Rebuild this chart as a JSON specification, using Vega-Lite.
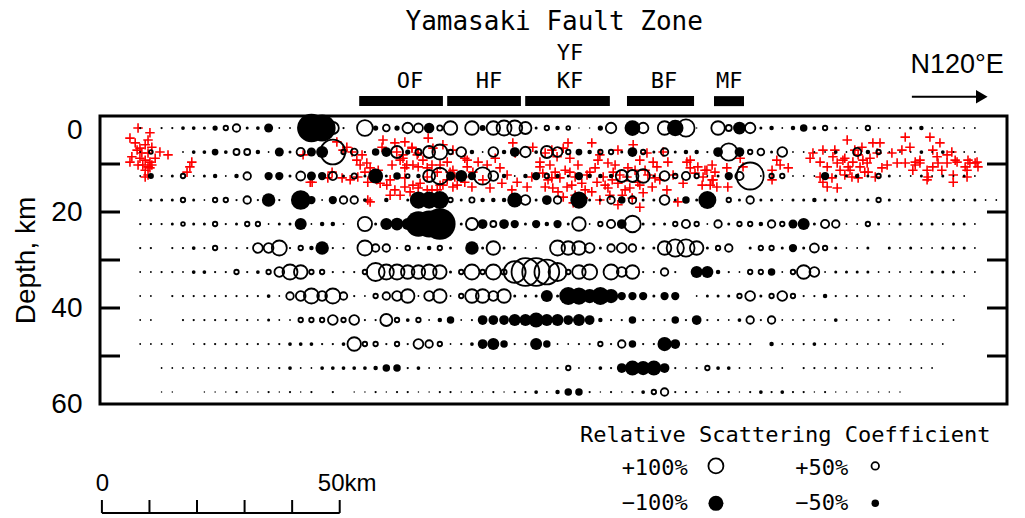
{
"$schema":"https://vega.github.io/schema/vega-lite/v6.json",
"width":907,"height":288,"autosize":{"type":"none"},
"padding":{"left":100,"top":116,"right":18,"bottom":114},
"background":"white",
"config":{"view":{"stroke":"black","strokeWidth":3}},
"datasets":{
"grid":[
{"x":8.45,"d":2.5,"v":-15},{"x":12.95,"d":2.5,"v":-15},{"x":15.2,"d":2.5,"v":-15},{"x":17.45,"d":2.5,"v":-25},{"x":19.7,"d":2.5,"v":-25},{"x":21.95,"d":2.5,"v":-20},{"x":24.2,"d":2.5,"v":-35},{"x":26.45,"d":2.5,"v":30},{"x":28.7,"d":2.5,"v":50},{"x":30.95,"d":2.5,"v":-20},{"x":33.2,"d":2.5,"v":-25},{"x":35.45,"d":2.5,"v":-60},{"x":37.7,"d":2.5,"v":-12},{"x":39.95,"d":2.5,"v":-12},{"x":42.2,"d":2.5,"v":30},{"x":44.45,"d":2.5,"v":-190},{"x":46.7,"d":2.5,"v":-180},{"x":48.95,"d":2.5,"v":80},{"x":51.2,"d":2.5,"v":-15},{"x":55.7,"d":2.5,"v":105},{"x":57.95,"d":2.5,"v":-35},{"x":60.2,"d":2.5,"v":45},{"x":62.45,"d":2.5,"v":-35},{"x":64.7,"d":2.5,"v":70},{"x":66.95,"d":2.5,"v":60},{"x":69.2,"d":2.5,"v":-70},{"x":71.45,"d":2.5,"v":35},{"x":73.7,"d":2.5,"v":90},{"x":78.2,"d":2.5,"v":90},{"x":80.45,"d":2.5,"v":-40},{"x":82.7,"d":2.5,"v":90},{"x":84.95,"d":2.5,"v":100},{"x":87.2,"d":2.5,"v":100},{"x":89.45,"d":2.5,"v":80},{"x":91.7,"d":2.5,"v":-20},{"x":93.95,"d":2.5,"v":30},{"x":96.2,"d":2.5,"v":-30},{"x":98.45,"d":2.5,"v":25},{"x":100.7,"d":2.5,"v":-10},{"x":102.95,"d":2.5,"v":-10},{"x":105.2,"d":2.5,"v":-35},{"x":107.45,"d":2.5,"v":70},{"x":111.95,"d":2.5,"v":-105},{"x":114.2,"d":2.5,"v":70},{"x":118.7,"d":2.5,"v":90},{"x":120.95,"d":2.5,"v":-110},{"x":123.2,"d":2.5,"v":115},{"x":125.45,"d":2.5,"v":-10},{"x":129.95,"d":2.5,"v":90},{"x":132.2,"d":2.5,"v":40},{"x":134.45,"d":2.5,"v":-85},{"x":136.7,"d":2.5,"v":70},{"x":138.95,"d":2.5,"v":-20},{"x":141.2,"d":2.5,"v":-30},{"x":143.45,"d":2.5,"v":-12},{"x":145.7,"d":2.5,"v":-30},{"x":147.95,"d":2.5,"v":-50},{"x":150.2,"d":2.5,"v":-25},{"x":152.45,"d":2.5,"v":30},{"x":154.7,"d":2.5,"v":-20},{"x":156.95,"d":2.5,"v":-12},{"x":159.2,"d":2.5,"v":-12},{"x":161.45,"d":2.5,"v":30},{"x":163.7,"d":2.5,"v":-12},{"x":165.95,"d":2.5,"v":-12},{"x":168.2,"d":2.5,"v":-12},{"x":170.45,"d":2.5,"v":-20},{"x":172.7,"d":2.5,"v":-30},{"x":174.95,"d":2.5,"v":-12},{"x":177.2,"d":2.5,"v":-12},{"x":179.45,"d":2.5,"v":-12},{"x":181.7,"d":2.5,"v":-12},{"x":183.95,"d":2.5,"v":-12},
{"x":8.45,"d":7.5,"v":-12},{"x":10.7,"d":7.5,"v":25},{"x":17.45,"d":7.5,"v":-12},{"x":19.7,"d":7.5,"v":-25},{"x":21.95,"d":7.5,"v":-25},{"x":24.2,"d":7.5,"v":-45},{"x":26.45,"d":7.5,"v":-25},{"x":28.7,"d":7.5,"v":40},{"x":30.95,"d":7.5,"v":40},{"x":33.2,"d":7.5,"v":-30},{"x":35.45,"d":7.5,"v":-12},{"x":37.7,"d":7.5,"v":-60},{"x":39.95,"d":7.5,"v":-20},{"x":42.2,"d":7.5,"v":55},{"x":44.45,"d":7.5,"v":-60},{"x":46.7,"d":7.5,"v":-80},{"x":48.95,"d":7.5,"v":165},{"x":51.2,"d":7.5,"v":30},{"x":53.45,"d":7.5,"v":45},{"x":55.7,"d":7.5,"v":-15},{"x":57.95,"d":7.5,"v":-50},{"x":60.2,"d":7.5,"v":-65},{"x":62.45,"d":7.5,"v":80},{"x":64.7,"d":7.5,"v":-35},{"x":66.95,"d":7.5,"v":40},{"x":69.2,"d":7.5,"v":80},{"x":71.45,"d":7.5,"v":100},{"x":73.7,"d":7.5,"v":30},{"x":75.95,"d":7.5,"v":65},{"x":78.2,"d":7.5,"v":-30},{"x":80.45,"d":7.5,"v":-12},{"x":82.7,"d":7.5,"v":65},{"x":84.95,"d":7.5,"v":-30},{"x":87.2,"d":7.5,"v":-65},{"x":89.45,"d":7.5,"v":70},{"x":91.7,"d":7.5,"v":-25},{"x":93.95,"d":7.5,"v":80},{"x":96.2,"d":7.5,"v":65},{"x":98.45,"d":7.5,"v":30},{"x":100.7,"d":7.5,"v":-45},{"x":102.95,"d":7.5,"v":-30},{"x":105.2,"d":7.5,"v":30},{"x":107.45,"d":7.5,"v":30},{"x":109.7,"d":7.5,"v":-20},{"x":111.95,"d":7.5,"v":-65},{"x":114.2,"d":7.5,"v":30},{"x":116.45,"d":7.5,"v":-20},{"x":118.7,"d":7.5,"v":50},{"x":120.95,"d":7.5,"v":-20},{"x":123.2,"d":7.5,"v":-30},{"x":125.45,"d":7.5,"v":-30},{"x":127.7,"d":7.5,"v":-15},{"x":129.95,"d":7.5,"v":-65},{"x":132.2,"d":7.5,"v":115},{"x":134.45,"d":7.5,"v":-65},{"x":136.7,"d":7.5,"v":30},{"x":138.95,"d":7.5,"v":45},{"x":141.2,"d":7.5,"v":-20},{"x":143.45,"d":7.5,"v":65},{"x":145.7,"d":7.5,"v":-12},{"x":147.95,"d":7.5,"v":-12},{"x":150.2,"d":7.5,"v":-12},{"x":152.45,"d":7.5,"v":-12},{"x":154.7,"d":7.5,"v":-25},{"x":156.95,"d":7.5,"v":-12},{"x":159.2,"d":7.5,"v":55},{"x":161.45,"d":7.5,"v":-30},{"x":163.7,"d":7.5,"v":30},{"x":165.95,"d":7.5,"v":-12},{"x":168.2,"d":7.5,"v":-12},{"x":170.45,"d":7.5,"v":-12},{"x":172.7,"d":7.5,"v":-25},{"x":174.95,"d":7.5,"v":-12},{"x":177.2,"d":7.5,"v":-25},{"x":179.45,"d":7.5,"v":-12},{"x":181.7,"d":7.5,"v":-12},{"x":183.95,"d":7.5,"v":-12},
{"x":8.45,"d":12.5,"v":-12},{"x":10.7,"d":12.5,"v":-40},{"x":12.95,"d":12.5,"v":-15},{"x":15.2,"d":12.5,"v":-20},{"x":17.45,"d":12.5,"v":30},{"x":19.7,"d":12.5,"v":-12},{"x":21.95,"d":12.5,"v":-20},{"x":24.2,"d":12.5,"v":-30},{"x":26.45,"d":12.5,"v":-12},{"x":28.7,"d":12.5,"v":-30},{"x":30.95,"d":12.5,"v":50},{"x":35.45,"d":12.5,"v":-55},{"x":37.7,"d":12.5,"v":-55},{"x":39.95,"d":12.5,"v":-20},{"x":42.2,"d":12.5,"v":60},{"x":44.45,"d":12.5,"v":-60},{"x":46.7,"d":12.5,"v":-55},{"x":48.95,"d":12.5,"v":55},{"x":51.2,"d":12.5,"v":-20},{"x":53.45,"d":12.5,"v":35},{"x":55.7,"d":12.5,"v":-20},{"x":57.95,"d":12.5,"v":-100},{"x":60.2,"d":12.5,"v":-20},{"x":62.45,"d":12.5,"v":-50},{"x":64.7,"d":12.5,"v":25},{"x":66.95,"d":12.5,"v":-30},{"x":69.2,"d":12.5,"v":80},{"x":71.45,"d":12.5,"v":110},{"x":73.7,"d":12.5,"v":-60},{"x":75.95,"d":12.5,"v":-80},{"x":78.2,"d":12.5,"v":-55},{"x":80.45,"d":12.5,"v":115},{"x":82.7,"d":12.5,"v":65},{"x":84.95,"d":12.5,"v":-30},{"x":87.2,"d":12.5,"v":-12},{"x":89.45,"d":12.5,"v":-30},{"x":91.7,"d":12.5,"v":-55},{"x":93.95,"d":12.5,"v":30},{"x":96.2,"d":12.5,"v":-30},{"x":98.45,"d":12.5,"v":-20},{"x":100.7,"d":12.5,"v":-55},{"x":102.95,"d":12.5,"v":-30},{"x":105.2,"d":12.5,"v":-30},{"x":107.45,"d":12.5,"v":-30},{"x":109.7,"d":12.5,"v":80},{"x":111.95,"d":12.5,"v":80},{"x":114.2,"d":12.5,"v":90},{"x":116.45,"d":12.5,"v":-20},{"x":118.7,"d":12.5,"v":65},{"x":120.95,"d":12.5,"v":30},{"x":123.2,"d":12.5,"v":55},{"x":125.45,"d":12.5,"v":30},{"x":127.7,"d":12.5,"v":-12},{"x":129.95,"d":12.5,"v":-20},{"x":132.2,"d":12.5,"v":-55},{"x":134.45,"d":12.5,"v":55},{"x":136.7,"d":12.5,"v":180},{"x":138.95,"d":12.5,"v":-12},{"x":141.2,"d":12.5,"v":30},{"x":143.45,"d":12.5,"v":30},{"x":145.7,"d":12.5,"v":-12},{"x":147.95,"d":12.5,"v":-12},{"x":150.2,"d":12.5,"v":-12},{"x":152.45,"d":12.5,"v":-55},{"x":154.7,"d":12.5,"v":-20},{"x":156.95,"d":12.5,"v":-20},{"x":159.2,"d":12.5,"v":-30},{"x":161.45,"d":12.5,"v":-20},{"x":163.7,"d":12.5,"v":30},{"x":165.95,"d":12.5,"v":-20},{"x":168.2,"d":12.5,"v":-12},{"x":170.45,"d":12.5,"v":-12},{"x":172.7,"d":12.5,"v":-20},{"x":174.95,"d":12.5,"v":-12},{"x":177.2,"d":12.5,"v":-20},{"x":179.45,"d":12.5,"v":-12},{"x":181.7,"d":12.5,"v":-20},{"x":183.95,"d":12.5,"v":-12},
{"x":8.45,"d":17.5,"v":-15},{"x":10.7,"d":17.5,"v":-20},{"x":12.95,"d":17.5,"v":-20},{"x":15.2,"d":17.5,"v":-20},{"x":17.45,"d":17.5,"v":30},{"x":19.7,"d":17.5,"v":-20},{"x":21.95,"d":17.5,"v":-12},{"x":24.2,"d":17.5,"v":30},{"x":26.45,"d":17.5,"v":30},{"x":28.7,"d":17.5,"v":-15},{"x":30.95,"d":17.5,"v":50},{"x":33.2,"d":17.5,"v":-15},{"x":35.45,"d":17.5,"v":-90},{"x":37.7,"d":17.5,"v":-15},{"x":42.2,"d":17.5,"v":-130},{"x":44.45,"d":17.5,"v":-55},{"x":46.7,"d":17.5,"v":-12},{"x":48.95,"d":17.5,"v":-55},{"x":51.2,"d":17.5,"v":50},{"x":53.45,"d":17.5,"v":50},{"x":55.7,"d":17.5,"v":-25},{"x":60.2,"d":17.5,"v":-30},{"x":64.7,"d":17.5,"v":-20},{"x":66.95,"d":17.5,"v":-115},{"x":69.2,"d":17.5,"v":-115},{"x":71.45,"d":17.5,"v":-120},{"x":73.7,"d":17.5,"v":30},{"x":75.95,"d":17.5,"v":-20},{"x":78.2,"d":17.5,"v":35},{"x":80.45,"d":17.5,"v":-30},{"x":82.7,"d":17.5,"v":-30},{"x":84.95,"d":17.5,"v":-30},{"x":87.2,"d":17.5,"v":-100},{"x":89.45,"d":17.5,"v":65},{"x":91.7,"d":17.5,"v":-20},{"x":93.95,"d":17.5,"v":-65},{"x":96.2,"d":17.5,"v":50},{"x":100.7,"d":17.5,"v":-115},{"x":102.95,"d":17.5,"v":-20},{"x":105.2,"d":17.5,"v":-20},{"x":107.45,"d":17.5,"v":50},{"x":109.7,"d":17.5,"v":-50},{"x":111.95,"d":17.5,"v":50},{"x":114.2,"d":17.5,"v":-20},{"x":116.45,"d":17.5,"v":-20},{"x":118.7,"d":17.5,"v":65},{"x":120.95,"d":17.5,"v":-20},{"x":123.2,"d":17.5,"v":-50},{"x":125.45,"d":17.5,"v":-20},{"x":127.7,"d":17.5,"v":-120},{"x":132.2,"d":17.5,"v":30},{"x":134.45,"d":17.5,"v":-20},{"x":136.7,"d":17.5,"v":50},{"x":138.95,"d":17.5,"v":-20},{"x":141.2,"d":17.5,"v":-20},{"x":143.45,"d":17.5,"v":-12},{"x":145.7,"d":17.5,"v":-20},{"x":147.95,"d":17.5,"v":-20},{"x":150.2,"d":17.5,"v":-30},{"x":152.45,"d":17.5,"v":-20},{"x":154.7,"d":17.5,"v":-20},{"x":156.95,"d":17.5,"v":-20},{"x":159.2,"d":17.5,"v":-20},{"x":161.45,"d":17.5,"v":-20},{"x":163.7,"d":17.5,"v":30},{"x":165.95,"d":17.5,"v":-20},{"x":168.2,"d":17.5,"v":-12},{"x":170.45,"d":17.5,"v":-20},{"x":172.7,"d":17.5,"v":-12},{"x":174.95,"d":17.5,"v":-20},{"x":177.2,"d":17.5,"v":-20},{"x":179.45,"d":17.5,"v":-20},{"x":181.7,"d":17.5,"v":-12},{"x":183.95,"d":17.5,"v":-20},{"x":186.2,"d":17.5,"v":-12},{"x":188.45,"d":17.5,"v":-12},
{"x":8.45,"d":22.5,"v":-15},{"x":10.7,"d":22.5,"v":-15},{"x":12.95,"d":22.5,"v":-15},{"x":15.2,"d":22.5,"v":-20},{"x":17.45,"d":22.5,"v":25},{"x":19.7,"d":22.5,"v":-20},{"x":21.95,"d":22.5,"v":-20},{"x":24.2,"d":22.5,"v":30},{"x":26.45,"d":22.5,"v":-15},{"x":28.7,"d":22.5,"v":-20},{"x":30.95,"d":22.5,"v":30},{"x":33.2,"d":22.5,"v":30},{"x":35.45,"d":22.5,"v":-12},{"x":37.7,"d":22.5,"v":-20},{"x":39.95,"d":22.5,"v":-20},{"x":42.2,"d":22.5,"v":-80},{"x":44.45,"d":22.5,"v":-12},{"x":46.7,"d":22.5,"v":-30},{"x":48.95,"d":22.5,"v":-30},{"x":51.2,"d":22.5,"v":-12},{"x":55.7,"d":22.5,"v":95},{"x":57.95,"d":22.5,"v":-20},{"x":60.2,"d":22.5,"v":-80},{"x":62.45,"d":22.5,"v":-85},{"x":64.7,"d":22.5,"v":-80},{"x":66.95,"d":22.5,"v":-170},{"x":69.2,"d":22.5,"v":-180},{"x":71.45,"d":22.5,"v":-210},{"x":73.7,"d":22.5,"v":-25},{"x":75.95,"d":22.5,"v":-20},{"x":78.2,"d":22.5,"v":80},{"x":80.45,"d":22.5,"v":-65},{"x":82.7,"d":22.5,"v":40},{"x":84.95,"d":22.5,"v":-65},{"x":87.2,"d":22.5,"v":-55},{"x":89.45,"d":22.5,"v":-20},{"x":91.7,"d":22.5,"v":-55},{"x":93.95,"d":22.5,"v":-30},{"x":96.2,"d":22.5,"v":-55},{"x":98.45,"d":22.5,"v":-20},{"x":100.7,"d":22.5,"v":90},{"x":102.95,"d":22.5,"v":-12},{"x":105.2,"d":22.5,"v":30},{"x":107.45,"d":22.5,"v":55},{"x":109.7,"d":22.5,"v":-65},{"x":111.95,"d":22.5,"v":110},{"x":114.2,"d":22.5,"v":-20},{"x":116.45,"d":22.5,"v":-20},{"x":118.7,"d":22.5,"v":-20},{"x":120.95,"d":22.5,"v":30},{"x":123.2,"d":22.5,"v":55},{"x":125.45,"d":22.5,"v":30},{"x":127.7,"d":22.5,"v":-12},{"x":129.95,"d":22.5,"v":50},{"x":132.2,"d":22.5,"v":-20},{"x":134.45,"d":22.5,"v":30},{"x":136.7,"d":22.5,"v":30},{"x":138.95,"d":22.5,"v":-30},{"x":141.2,"d":22.5,"v":50},{"x":143.45,"d":22.5,"v":30},{"x":145.7,"d":22.5,"v":-60},{"x":147.95,"d":22.5,"v":-80},{"x":150.2,"d":22.5,"v":-20},{"x":152.45,"d":22.5,"v":55},{"x":154.7,"d":22.5,"v":50},{"x":156.95,"d":22.5,"v":-12},{"x":159.2,"d":22.5,"v":-12},{"x":161.45,"d":22.5,"v":30},{"x":163.7,"d":22.5,"v":-20},{"x":165.95,"d":22.5,"v":-12},{"x":168.2,"d":22.5,"v":-20},{"x":170.45,"d":22.5,"v":-12},{"x":172.7,"d":22.5,"v":-20},{"x":174.95,"d":22.5,"v":-20},{"x":177.2,"d":22.5,"v":-12},{"x":179.45,"d":22.5,"v":-20},{"x":181.7,"d":22.5,"v":-20},{"x":183.95,"d":22.5,"v":-12},
{"x":8.45,"d":27.5,"v":-15},{"x":10.7,"d":27.5,"v":-15},{"x":15.2,"d":27.5,"v":-15},{"x":17.45,"d":27.5,"v":-15},{"x":19.7,"d":27.5,"v":-25},{"x":21.95,"d":27.5,"v":-15},{"x":24.2,"d":27.5,"v":30},{"x":26.45,"d":27.5,"v":-15},{"x":28.7,"d":27.5,"v":-15},{"x":30.95,"d":27.5,"v":-15},{"x":33.2,"d":27.5,"v":65},{"x":35.45,"d":27.5,"v":65},{"x":37.7,"d":27.5,"v":100},{"x":39.95,"d":27.5,"v":-15},{"x":42.2,"d":27.5,"v":30},{"x":44.45,"d":27.5,"v":-30},{"x":46.7,"d":27.5,"v":-90},{"x":48.95,"d":27.5,"v":-15},{"x":51.2,"d":27.5,"v":-15},{"x":55.7,"d":27.5,"v":100},{"x":57.95,"d":27.5,"v":50},{"x":60.2,"d":27.5,"v":50},{"x":62.45,"d":27.5,"v":-15},{"x":64.7,"d":27.5,"v":30},{"x":66.95,"d":27.5,"v":-20},{"x":69.2,"d":27.5,"v":-30},{"x":71.45,"d":27.5,"v":30},{"x":73.7,"d":27.5,"v":-20},{"x":78.2,"d":27.5,"v":-90},{"x":80.45,"d":27.5,"v":-20},{"x":82.7,"d":27.5,"v":90},{"x":84.95,"d":27.5,"v":-20},{"x":87.2,"d":27.5,"v":-20},{"x":89.45,"d":27.5,"v":-12},{"x":91.7,"d":27.5,"v":-12},{"x":96.2,"d":27.5,"v":100},{"x":98.45,"d":27.5,"v":90},{"x":100.7,"d":27.5,"v":90},{"x":102.95,"d":27.5,"v":65},{"x":105.2,"d":27.5,"v":-20},{"x":107.45,"d":27.5,"v":50},{"x":109.7,"d":27.5,"v":65},{"x":111.95,"d":27.5,"v":50},{"x":114.2,"d":27.5,"v":-20},{"x":116.45,"d":27.5,"v":-20},{"x":118.7,"d":27.5,"v":90},{"x":120.95,"d":27.5,"v":115},{"x":123.2,"d":27.5,"v":115},{"x":125.45,"d":27.5,"v":90},{"x":127.7,"d":27.5,"v":-20},{"x":129.95,"d":27.5,"v":30},{"x":132.2,"d":27.5,"v":50},{"x":136.7,"d":27.5,"v":-20},{"x":138.95,"d":27.5,"v":30},{"x":141.2,"d":27.5,"v":30},{"x":143.45,"d":27.5,"v":-20},{"x":145.7,"d":27.5,"v":-55},{"x":147.95,"d":27.5,"v":-20},{"x":150.2,"d":27.5,"v":60},{"x":152.45,"d":27.5,"v":30},{"x":154.7,"d":27.5,"v":-20},{"x":156.95,"d":27.5,"v":-12},{"x":159.2,"d":27.5,"v":-12},{"x":161.45,"d":27.5,"v":-20},{"x":165.95,"d":27.5,"v":-20},{"x":168.2,"d":27.5,"v":-12},{"x":170.45,"d":27.5,"v":-20},{"x":172.7,"d":27.5,"v":-12},{"x":174.95,"d":27.5,"v":-12},{"x":177.2,"d":27.5,"v":-20},{"x":179.45,"d":27.5,"v":-20},{"x":181.7,"d":27.5,"v":-20},{"x":183.95,"d":27.5,"v":-12},
{"x":8.45,"d":32.5,"v":-12},{"x":10.7,"d":32.5,"v":-12},{"x":12.95,"d":32.5,"v":-15},{"x":15.2,"d":32.5,"v":-15},{"x":17.45,"d":32.5,"v":-12},{"x":19.7,"d":32.5,"v":-25},{"x":21.95,"d":32.5,"v":-25},{"x":24.2,"d":32.5,"v":-15},{"x":26.45,"d":32.5,"v":-15},{"x":28.7,"d":32.5,"v":30},{"x":30.95,"d":32.5,"v":-15},{"x":33.2,"d":32.5,"v":-25},{"x":35.45,"d":32.5,"v":30},{"x":37.7,"d":32.5,"v":65},{"x":39.95,"d":32.5,"v":100},{"x":42.2,"d":32.5,"v":90},{"x":44.45,"d":32.5,"v":30},{"x":46.7,"d":32.5,"v":30},{"x":48.95,"d":32.5,"v":-15},{"x":51.2,"d":32.5,"v":-15},{"x":53.45,"d":32.5,"v":-15},{"x":55.7,"d":32.5,"v":30},{"x":57.95,"d":32.5,"v":120},{"x":60.2,"d":32.5,"v":100},{"x":62.45,"d":32.5,"v":100},{"x":64.7,"d":32.5,"v":90},{"x":66.95,"d":32.5,"v":90},{"x":69.2,"d":32.5,"v":100},{"x":71.45,"d":32.5,"v":90},{"x":73.7,"d":32.5,"v":-20},{"x":75.95,"d":32.5,"v":30},{"x":78.2,"d":32.5,"v":100},{"x":80.45,"d":32.5,"v":30},{"x":82.7,"d":32.5,"v":100},{"x":84.95,"d":32.5,"v":35},{"x":87.2,"d":32.5,"v":145},{"x":89.45,"d":32.5,"v":185},{"x":91.7,"d":32.5,"v":185},{"x":93.95,"d":32.5,"v":165},{"x":96.2,"d":32.5,"v":120},{"x":98.45,"d":32.5,"v":30},{"x":100.7,"d":32.5,"v":90},{"x":102.95,"d":32.5,"v":100},{"x":107.45,"d":32.5,"v":100},{"x":109.7,"d":32.5,"v":65},{"x":111.95,"d":32.5,"v":90},{"x":114.2,"d":32.5,"v":-15},{"x":116.45,"d":32.5,"v":-15},{"x":118.7,"d":32.5,"v":50},{"x":120.95,"d":32.5,"v":-15},{"x":125.45,"d":32.5,"v":-80},{"x":127.7,"d":32.5,"v":-80},{"x":129.95,"d":32.5,"v":-30},{"x":132.2,"d":32.5,"v":-15},{"x":134.45,"d":32.5,"v":-12},{"x":136.7,"d":32.5,"v":30},{"x":138.95,"d":32.5,"v":30},{"x":141.2,"d":32.5,"v":-50},{"x":143.45,"d":32.5,"v":-12},{"x":145.7,"d":32.5,"v":30},{"x":147.95,"d":32.5,"v":90},{"x":150.2,"d":32.5,"v":65},{"x":152.45,"d":32.5,"v":-12},{"x":154.7,"d":32.5,"v":-20},{"x":156.95,"d":32.5,"v":-20},{"x":159.2,"d":32.5,"v":-20},{"x":161.45,"d":32.5,"v":-20},{"x":163.7,"d":32.5,"v":-12},{"x":165.95,"d":32.5,"v":-12},{"x":168.2,"d":32.5,"v":-12},{"x":170.45,"d":32.5,"v":-12},{"x":172.7,"d":32.5,"v":-12},{"x":174.95,"d":32.5,"v":-20},{"x":177.2,"d":32.5,"v":-20},{"x":179.45,"d":32.5,"v":-20},{"x":181.7,"d":32.5,"v":-12},{"x":183.95,"d":32.5,"v":-12},
{"x":8.45,"d":37.5,"v":-12},{"x":10.7,"d":37.5,"v":-12},{"x":15.2,"d":37.5,"v":-15},{"x":17.45,"d":37.5,"v":-15},{"x":19.7,"d":37.5,"v":-15},{"x":21.95,"d":37.5,"v":-15},{"x":24.2,"d":37.5,"v":-15},{"x":26.45,"d":37.5,"v":-15},{"x":28.7,"d":37.5,"v":-15},{"x":30.95,"d":37.5,"v":-15},{"x":33.2,"d":37.5,"v":-15},{"x":35.45,"d":37.5,"v":-25},{"x":37.7,"d":37.5,"v":-12},{"x":39.95,"d":37.5,"v":50},{"x":42.2,"d":37.5,"v":65},{"x":44.45,"d":37.5,"v":100},{"x":46.7,"d":37.5,"v":65},{"x":48.95,"d":37.5,"v":100},{"x":51.2,"d":37.5,"v":50},{"x":53.45,"d":37.5,"v":-15},{"x":55.7,"d":37.5,"v":-12},{"x":57.95,"d":37.5,"v":30},{"x":60.2,"d":37.5,"v":50},{"x":62.45,"d":37.5,"v":65},{"x":64.7,"d":37.5,"v":90},{"x":66.95,"d":37.5,"v":-12},{"x":69.2,"d":37.5,"v":65},{"x":71.45,"d":37.5,"v":90},{"x":73.7,"d":37.5,"v":-12},{"x":75.95,"d":37.5,"v":30},{"x":78.2,"d":37.5,"v":90},{"x":80.45,"d":37.5,"v":90},{"x":82.7,"d":37.5,"v":65},{"x":84.95,"d":37.5,"v":90},{"x":87.2,"d":37.5,"v":-20},{"x":89.45,"d":37.5,"v":-20},{"x":91.7,"d":37.5,"v":-20},{"x":93.95,"d":37.5,"v":-80},{"x":96.2,"d":37.5,"v":-20},{"x":98.45,"d":37.5,"v":-120},{"x":100.7,"d":37.5,"v":-115},{"x":102.95,"d":37.5,"v":-95},{"x":105.2,"d":37.5,"v":-120},{"x":107.45,"d":37.5,"v":-95},{"x":109.7,"d":37.5,"v":-55},{"x":111.95,"d":37.5,"v":-55},{"x":114.2,"d":37.5,"v":-55},{"x":116.45,"d":37.5,"v":-20},{"x":118.7,"d":37.5,"v":-55},{"x":120.95,"d":37.5,"v":-55},{"x":125.45,"d":37.5,"v":-12},{"x":127.7,"d":37.5,"v":-20},{"x":129.95,"d":37.5,"v":-20},{"x":132.2,"d":37.5,"v":-20},{"x":134.45,"d":37.5,"v":30},{"x":136.7,"d":37.5,"v":65},{"x":138.95,"d":37.5,"v":-20},{"x":141.2,"d":37.5,"v":30},{"x":143.45,"d":37.5,"v":65},{"x":145.7,"d":37.5,"v":30},{"x":147.95,"d":37.5,"v":-15},{"x":150.2,"d":37.5,"v":-15},{"x":152.45,"d":37.5,"v":-30},{"x":154.7,"d":37.5,"v":-15},{"x":156.95,"d":37.5,"v":-15},{"x":159.2,"d":37.5,"v":-15},{"x":161.45,"d":37.5,"v":-12},{"x":163.7,"d":37.5,"v":-15},{"x":165.95,"d":37.5,"v":-15},{"x":168.2,"d":37.5,"v":-12},{"x":170.45,"d":37.5,"v":-15},{"x":172.7,"d":37.5,"v":-12},{"x":174.95,"d":37.5,"v":-15},{"x":177.2,"d":37.5,"v":-15},{"x":179.45,"d":37.5,"v":-12},{"x":181.7,"d":37.5,"v":-12},
{"x":8.45,"d":42.5,"v":-12},{"x":10.7,"d":42.5,"v":-12},{"x":17.45,"d":42.5,"v":-15},{"x":19.7,"d":42.5,"v":-15},{"x":21.95,"d":42.5,"v":-15},{"x":24.2,"d":42.5,"v":-15},{"x":26.45,"d":42.5,"v":-15},{"x":28.7,"d":42.5,"v":-15},{"x":30.95,"d":42.5,"v":-15},{"x":33.2,"d":42.5,"v":-12},{"x":35.45,"d":42.5,"v":-20},{"x":37.7,"d":42.5,"v":-12},{"x":39.95,"d":42.5,"v":-12},{"x":42.2,"d":42.5,"v":30},{"x":44.45,"d":42.5,"v":30},{"x":46.7,"d":42.5,"v":30},{"x":48.95,"d":42.5,"v":65},{"x":51.2,"d":42.5,"v":30},{"x":53.45,"d":42.5,"v":65},{"x":55.7,"d":42.5,"v":-15},{"x":57.95,"d":42.5,"v":-15},{"x":60.2,"d":42.5,"v":80},{"x":62.45,"d":42.5,"v":30},{"x":64.7,"d":42.5,"v":-25},{"x":66.95,"d":42.5,"v":30},{"x":69.2,"d":42.5,"v":-12},{"x":71.45,"d":42.5,"v":-30},{"x":73.7,"d":42.5,"v":-50},{"x":75.95,"d":42.5,"v":-12},{"x":78.2,"d":42.5,"v":-15},{"x":80.45,"d":42.5,"v":-65},{"x":82.7,"d":42.5,"v":-65},{"x":84.95,"d":42.5,"v":-65},{"x":87.2,"d":42.5,"v":-80},{"x":89.45,"d":42.5,"v":-80},{"x":91.7,"d":42.5,"v":-100},{"x":93.95,"d":42.5,"v":-80},{"x":96.2,"d":42.5,"v":-80},{"x":98.45,"d":42.5,"v":-65},{"x":100.7,"d":42.5,"v":-80},{"x":102.95,"d":42.5,"v":-65},{"x":105.2,"d":42.5,"v":-30},{"x":107.45,"d":42.5,"v":-15},{"x":109.7,"d":42.5,"v":-15},{"x":111.95,"d":42.5,"v":-50},{"x":114.2,"d":42.5,"v":-15},{"x":116.45,"d":42.5,"v":-15},{"x":118.7,"d":42.5,"v":-15},{"x":120.95,"d":42.5,"v":-50},{"x":123.2,"d":42.5,"v":-15},{"x":125.45,"d":42.5,"v":-65},{"x":127.7,"d":42.5,"v":-15},{"x":129.95,"d":42.5,"v":-15},{"x":132.2,"d":42.5,"v":-12},{"x":134.45,"d":42.5,"v":-25},{"x":136.7,"d":42.5,"v":50},{"x":138.95,"d":42.5,"v":-15},{"x":141.2,"d":42.5,"v":50},{"x":143.45,"d":42.5,"v":-12},{"x":145.7,"d":42.5,"v":-12},{"x":147.95,"d":42.5,"v":-15},{"x":150.2,"d":42.5,"v":-12},{"x":152.45,"d":42.5,"v":-12},{"x":154.7,"d":42.5,"v":-25},{"x":156.95,"d":42.5,"v":-12},{"x":159.2,"d":42.5,"v":-12},{"x":161.45,"d":42.5,"v":-12},{"x":163.7,"d":42.5,"v":-15},{"x":165.95,"d":42.5,"v":-12},{"x":170.45,"d":42.5,"v":-12},{"x":172.7,"d":42.5,"v":-12},{"x":174.95,"d":42.5,"v":-12},{"x":177.2,"d":42.5,"v":-12},{"x":179.45,"d":42.5,"v":-12},
{"x":8.45,"d":47.5,"v":-12},{"x":10.7,"d":47.5,"v":-12},{"x":12.95,"d":47.5,"v":-12},{"x":15.2,"d":47.5,"v":-12},{"x":19.7,"d":47.5,"v":-12},{"x":21.95,"d":47.5,"v":-15},{"x":24.2,"d":47.5,"v":-15},{"x":26.45,"d":47.5,"v":-15},{"x":28.7,"d":47.5,"v":-15},{"x":30.95,"d":47.5,"v":-15},{"x":33.2,"d":47.5,"v":-15},{"x":35.45,"d":47.5,"v":-15},{"x":37.7,"d":47.5,"v":-15},{"x":39.95,"d":47.5,"v":-25},{"x":42.2,"d":47.5,"v":-25},{"x":44.45,"d":47.5,"v":-25},{"x":46.7,"d":47.5,"v":-15},{"x":48.95,"d":47.5,"v":-15},{"x":51.2,"d":47.5,"v":-25},{"x":53.45,"d":47.5,"v":90},{"x":55.7,"d":47.5,"v":30},{"x":57.95,"d":47.5,"v":30},{"x":60.2,"d":47.5,"v":-15},{"x":62.45,"d":47.5,"v":30},{"x":64.7,"d":47.5,"v":-15},{"x":66.95,"d":47.5,"v":65},{"x":69.2,"d":47.5,"v":50},{"x":71.45,"d":47.5,"v":30},{"x":73.7,"d":47.5,"v":-12},{"x":75.95,"d":47.5,"v":-15},{"x":78.2,"d":47.5,"v":-25},{"x":80.45,"d":47.5,"v":-65},{"x":82.7,"d":47.5,"v":-80},{"x":84.95,"d":47.5,"v":-50},{"x":87.2,"d":47.5,"v":-15},{"x":89.45,"d":47.5,"v":-15},{"x":91.7,"d":47.5,"v":-80},{"x":93.95,"d":47.5,"v":-50},{"x":96.2,"d":47.5,"v":-12},{"x":98.45,"d":47.5,"v":-12},{"x":100.7,"d":47.5,"v":-15},{"x":102.95,"d":47.5,"v":-15},{"x":105.2,"d":47.5,"v":30},{"x":107.45,"d":47.5,"v":-15},{"x":109.7,"d":47.5,"v":50},{"x":111.95,"d":47.5,"v":-50},{"x":114.2,"d":47.5,"v":-15},{"x":116.45,"d":47.5,"v":-15},{"x":118.7,"d":47.5,"v":-95},{"x":120.95,"d":47.5,"v":-65},{"x":123.2,"d":47.5,"v":-12},{"x":125.45,"d":47.5,"v":-15},{"x":127.7,"d":47.5,"v":-15},{"x":129.95,"d":47.5,"v":-15},{"x":132.2,"d":47.5,"v":-15},{"x":134.45,"d":47.5,"v":-12},{"x":136.7,"d":47.5,"v":-15},{"x":141.2,"d":47.5,"v":-30},{"x":143.45,"d":47.5,"v":-12},{"x":145.7,"d":47.5,"v":-15},{"x":147.95,"d":47.5,"v":-15},{"x":150.2,"d":47.5,"v":-25},{"x":152.45,"d":47.5,"v":-15},{"x":154.7,"d":47.5,"v":-12},{"x":156.95,"d":47.5,"v":-12},{"x":159.2,"d":47.5,"v":-12},{"x":161.45,"d":47.5,"v":-12},{"x":163.7,"d":47.5,"v":-12},{"x":165.95,"d":47.5,"v":-15},{"x":168.2,"d":47.5,"v":-12},{"x":170.45,"d":47.5,"v":-15},{"x":172.7,"d":47.5,"v":-12},{"x":174.95,"d":47.5,"v":-12},{"x":177.2,"d":47.5,"v":-12},
{"x":12.95,"d":52.5,"v":-12},{"x":15.2,"d":52.5,"v":-12},{"x":17.45,"d":52.5,"v":-12},{"x":19.7,"d":52.5,"v":-12},{"x":21.95,"d":52.5,"v":-12},{"x":24.2,"d":52.5,"v":-12},{"x":26.45,"d":52.5,"v":-15},{"x":28.7,"d":52.5,"v":-12},{"x":30.95,"d":52.5,"v":-12},{"x":33.2,"d":52.5,"v":-12},{"x":35.45,"d":52.5,"v":-12},{"x":37.7,"d":52.5,"v":-15},{"x":39.95,"d":52.5,"v":-25},{"x":42.2,"d":52.5,"v":-12},{"x":44.45,"d":52.5,"v":-12},{"x":46.7,"d":52.5,"v":-25},{"x":48.95,"d":52.5,"v":-25},{"x":51.2,"d":52.5,"v":-25},{"x":53.45,"d":52.5,"v":-25},{"x":55.7,"d":52.5,"v":-25},{"x":57.95,"d":52.5,"v":-30},{"x":60.2,"d":52.5,"v":-50},{"x":62.45,"d":52.5,"v":-50},{"x":64.7,"d":52.5,"v":-15},{"x":66.95,"d":52.5,"v":-25},{"x":69.2,"d":52.5,"v":-12},{"x":71.45,"d":52.5,"v":-12},{"x":73.7,"d":52.5,"v":-15},{"x":75.95,"d":52.5,"v":-15},{"x":78.2,"d":52.5,"v":-12},{"x":80.45,"d":52.5,"v":-12},{"x":82.7,"d":52.5,"v":-15},{"x":84.95,"d":52.5,"v":-15},{"x":87.2,"d":52.5,"v":-12},{"x":89.45,"d":52.5,"v":-15},{"x":91.7,"d":52.5,"v":-15},{"x":93.95,"d":52.5,"v":-15},{"x":96.2,"d":52.5,"v":-15},{"x":98.45,"d":52.5,"v":30},{"x":100.7,"d":52.5,"v":-12},{"x":102.95,"d":52.5,"v":-12},{"x":105.2,"d":52.5,"v":-25},{"x":107.45,"d":52.5,"v":-15},{"x":109.7,"d":52.5,"v":-65},{"x":111.95,"d":52.5,"v":-100},{"x":114.2,"d":52.5,"v":-95},{"x":116.45,"d":52.5,"v":-100},{"x":118.7,"d":52.5,"v":-65},{"x":120.95,"d":52.5,"v":-15},{"x":123.2,"d":52.5,"v":-12},{"x":125.45,"d":52.5,"v":-15},{"x":127.7,"d":52.5,"v":30},{"x":129.95,"d":52.5,"v":-25},{"x":132.2,"d":52.5,"v":-25},{"x":134.45,"d":52.5,"v":-12},{"x":136.7,"d":52.5,"v":-12},{"x":138.95,"d":52.5,"v":-12},{"x":141.2,"d":52.5,"v":-12},{"x":143.45,"d":52.5,"v":-12},{"x":147.95,"d":52.5,"v":-15},{"x":150.2,"d":52.5,"v":-15},{"x":152.45,"d":52.5,"v":-12},{"x":154.7,"d":52.5,"v":-15},{"x":156.95,"d":52.5,"v":-12},{"x":159.2,"d":52.5,"v":-12},{"x":161.45,"d":52.5,"v":-12},{"x":163.7,"d":52.5,"v":-12},{"x":165.95,"d":52.5,"v":-15},{"x":168.2,"d":52.5,"v":-12},{"x":170.45,"d":52.5,"v":-12},{"x":172.7,"d":52.5,"v":-12},{"x":174.95,"d":52.5,"v":-12},
{"x":12.95,"d":57.5,"v":-10},{"x":15.2,"d":57.5,"v":-10},{"x":21.95,"d":57.5,"v":-10},{"x":24.2,"d":57.5,"v":-10},{"x":26.45,"d":57.5,"v":-10},{"x":28.7,"d":57.5,"v":-15},{"x":30.95,"d":57.5,"v":-10},{"x":33.2,"d":57.5,"v":-10},{"x":35.45,"d":57.5,"v":-15},{"x":37.7,"d":57.5,"v":-10},{"x":39.95,"d":57.5,"v":-15},{"x":42.2,"d":57.5,"v":-10},{"x":44.45,"d":57.5,"v":-15},{"x":48.95,"d":57.5,"v":-15},{"x":53.45,"d":57.5,"v":-10},{"x":55.7,"d":57.5,"v":-10},{"x":57.95,"d":57.5,"v":-15},{"x":60.2,"d":57.5,"v":-10},{"x":62.45,"d":57.5,"v":-15},{"x":64.7,"d":57.5,"v":-15},{"x":66.95,"d":57.5,"v":-10},{"x":69.2,"d":57.5,"v":-10},{"x":71.45,"d":57.5,"v":-15},{"x":73.7,"d":57.5,"v":-15},{"x":75.95,"d":57.5,"v":-10},{"x":78.2,"d":57.5,"v":-15},{"x":80.45,"d":57.5,"v":-10},{"x":82.7,"d":57.5,"v":-15},{"x":84.95,"d":57.5,"v":-10},{"x":87.2,"d":57.5,"v":-15},{"x":89.45,"d":57.5,"v":-15},{"x":91.7,"d":57.5,"v":-25},{"x":93.95,"d":57.5,"v":-12},{"x":96.2,"d":57.5,"v":-30},{"x":98.45,"d":57.5,"v":-50},{"x":100.7,"d":57.5,"v":-50},{"x":102.95,"d":57.5,"v":-15},{"x":105.2,"d":57.5,"v":-10},{"x":107.45,"d":57.5,"v":-15},{"x":109.7,"d":57.5,"v":-10},{"x":111.95,"d":57.5,"v":-15},{"x":114.2,"d":57.5,"v":-25},{"x":116.45,"d":57.5,"v":30},{"x":118.7,"d":57.5,"v":50},{"x":120.95,"d":57.5,"v":-15},{"x":123.2,"d":57.5,"v":-15},{"x":125.45,"d":57.5,"v":-15},{"x":127.7,"d":57.5,"v":-10},{"x":129.95,"d":57.5,"v":-15},{"x":132.2,"d":57.5,"v":-15},{"x":134.45,"d":57.5,"v":-10},{"x":136.7,"d":57.5,"v":-15},{"x":138.95,"d":57.5,"v":-25},{"x":141.2,"d":57.5,"v":-15},{"x":143.45,"d":57.5,"v":-25},{"x":145.7,"d":57.5,"v":-15},{"x":147.95,"d":57.5,"v":-15},{"x":150.2,"d":57.5,"v":-10},{"x":152.45,"d":57.5,"v":-15},{"x":154.7,"d":57.5,"v":-10},{"x":156.95,"d":57.5,"v":-10},{"x":159.2,"d":57.5,"v":-10},{"x":161.45,"d":57.5,"v":-10},{"x":163.7,"d":57.5,"v":-10},{"x":165.95,"d":57.5,"v":-10},{"x":168.2,"d":57.5,"v":-10}
],
"eq":[
{"x":8.0,"d":2.5},{"x":6.3,"d":4.6},{"x":10.5,"d":3.5},{"x":10.1,"d":5.0},{"x":9.5,"d":6.0},{"x":10.9,"d":6.5},{"x":7.8,"d":7.1},{"x":8.8,"d":7.7},{"x":10.1,"d":7.7},{"x":12.6,"d":7.5},{"x":14.3,"d":8.1},{"x":6.7,"d":8.5},{"x":8.4,"d":8.8},{"x":9.5,"d":9.2},{"x":10.5,"d":9.6},{"x":6.3,"d":9.6},{"x":9.0,"d":10.2},{"x":10.1,"d":10.6},{"x":10.9,"d":10.2},{"x":9.5,"d":11.3},{"x":10.5,"d":10.8},{"x":10.1,"d":12.3},{"x":9.5,"d":12.7},{"x":19.3,"d":9.6},{"x":18.9,"d":10.6},{"x":18.3,"d":11.7},{"x":8.4,"d":6.7},{"x":7.4,"d":5.6},{"x":11.6,"d":8.8},{"x":8.0,"d":10.2},
{"x":49.8,"d":5.4},{"x":51.9,"d":6.5},{"x":53.0,"d":7.5},{"x":55.1,"d":8.1},{"x":54.0,"d":9.2},{"x":54.7,"d":10.2},{"x":56.1,"d":9.8},{"x":56.8,"d":10.8},{"x":58.2,"d":12.3},{"x":57.2,"d":12.7},{"x":58.2,"d":13.3},{"x":58.9,"d":14.0},{"x":56.3,"d":13.8},{"x":54.2,"d":12.7},{"x":48.8,"d":11.7},{"x":50.9,"d":12.9},{"x":44.6,"d":13.8},{"x":47.9,"d":12.9},{"x":52.6,"d":13.3},{"x":56.3,"d":17.5},{"x":56.8,"d":17.9},{"x":60.3,"d":14.4},{"x":61.0,"d":13.3},{"x":59.3,"d":6.5},{"x":59.5,"d":5.0},{"x":62.0,"d":5.6},{"x":62.4,"d":7.5},{"x":64.1,"d":5.4},{"x":65.6,"d":6.7},{"x":66.7,"d":8.1},{"x":63.1,"d":9.2},{"x":64.1,"d":10.8},{"x":65.8,"d":10.2},{"x":67.9,"d":9.2},{"x":68.8,"d":10.8},{"x":69.8,"d":10.2},{"x":71.5,"d":10.2},{"x":73.0,"d":9.6},{"x":73.6,"d":11.7},{"x":74.6,"d":12.7},{"x":77.2,"d":9.2},{"x":76.7,"d":13.8},{"x":74.2,"d":14.8},{"x":72.1,"d":14.4},{"x":63.1,"d":16.5},{"x":65.2,"d":15.8},{"x":66.9,"d":15.0},{"x":64.1,"d":14.8},{"x":61.0,"d":16.5},{"x":62.0,"d":15.4},{"x":68.8,"d":15.4},{"x":70.9,"d":15.4},{"x":42.7,"d":8.1},{"x":44.2,"d":13.8},{"x":51.1,"d":7.1},{"x":63.7,"d":8.8},{"x":61.4,"d":10.2},{"x":57.8,"d":11.9},{"x":57.4,"d":12.9},{"x":55.7,"d":11.7},{"x":58.5,"d":11.3},
{"x":65.6,"d":6.5},{"x":63.7,"d":8.1},{"x":66.9,"d":7.7},{"x":69.0,"d":4.6},{"x":70.0,"d":6.7},{"x":72.1,"d":6.0},{"x":74.2,"d":7.1},{"x":76.7,"d":8.8},{"x":77.2,"d":10.6},{"x":79.5,"d":9.6},{"x":81.4,"d":10.2},{"x":83.1,"d":8.8},{"x":84.1,"d":10.8},{"x":86.8,"d":5.6},{"x":87.3,"d":7.7},{"x":91.0,"d":6.5},{"x":92.5,"d":9.6},{"x":93.6,"d":7.7},{"x":95.0,"d":7.1},{"x":96.1,"d":8.5},{"x":97.4,"d":6.7},{"x":98.4,"d":5.6},{"x":98.8,"d":8.8},{"x":103.4,"d":5.6},{"x":105.1,"d":8.1},{"x":106.8,"d":9.8},{"x":108.9,"d":7.1},{"x":112.1,"d":6.0},{"x":115.0,"d":7.7},{"x":113.5,"d":9.2},{"x":116.3,"d":9.6},{"x":118.4,"d":7.5},{"x":119.4,"d":9.6},{"x":124.1,"d":9.2},{"x":125.7,"d":10.6},{"x":128.7,"d":10.2},{"x":129.3,"d":11.7},
{"x":64.5,"d":10.2},{"x":66.9,"d":10.6},{"x":68.8,"d":12.7},{"x":70.9,"d":11.7},{"x":73.0,"d":13.3},{"x":74.2,"d":11.3},{"x":75.1,"d":14.4},{"x":76.3,"d":12.7},{"x":78.4,"d":11.7},{"x":78.2,"d":14.8},{"x":80.5,"d":13.3},{"x":82.0,"d":15.0},{"x":84.5,"d":14.0},{"x":85.6,"d":12.3},{"x":86.6,"d":15.4},{"x":87.7,"d":13.8},{"x":89.8,"d":14.8},{"x":90.8,"d":12.7},{"x":92.5,"d":10.6},{"x":93.1,"d":11.9},{"x":94.2,"d":13.3},{"x":94.6,"d":10.2},{"x":95.2,"d":15.0},{"x":95.7,"d":11.7},{"x":96.7,"d":12.9},{"x":97.4,"d":16.9},{"x":98.2,"d":14.8},{"x":99.5,"d":18.1},{"x":99.9,"d":12.7},{"x":101.3,"d":14.0},{"x":102.4,"d":12.3},{"x":103.4,"d":15.8},{"x":104.1,"d":10.8},{"x":104.5,"d":13.8},{"x":105.1,"d":17.5},{"x":105.8,"d":12.7},{"x":106.8,"d":15.0},{"x":107.9,"d":11.7},{"x":108.9,"d":14.0},{"x":109.8,"d":16.5},{"x":110.8,"d":12.7},{"x":111.4,"d":15.0},{"x":112.5,"d":11.3},{"x":113.1,"d":13.8},{"x":114.2,"d":16.0},{"x":115.2,"d":12.3},{"x":116.1,"d":14.8},{"x":117.1,"d":10.6},{"x":117.7,"d":13.3},{"x":119.2,"d":15.4},{"x":120.5,"d":12.3},{"x":121.5,"d":17.9},{"x":122.6,"d":14.0},{"x":123.4,"d":9.6},{"x":124.1,"d":10.8},{"x":125.1,"d":11.9},{"x":126.6,"d":14.4},{"x":127.2,"d":11.3},{"x":128.7,"d":13.3},{"x":129.7,"d":14.8},{"x":65.8,"d":14.4},{"x":64.1,"d":12.9},{"x":67.3,"d":14.0},{"x":69.8,"d":15.4},{"x":71.5,"d":14.4},
{"x":97.8,"d":11.3},{"x":99.2,"d":14.4},{"x":100.5,"d":10.2},{"x":102.0,"d":15.4},{"x":103.0,"d":11.7},{"x":104.7,"d":9.2},{"x":106.2,"d":14.4},{"x":107.2,"d":16.5},{"x":108.3,"d":10.2},{"x":109.3,"d":12.3},{"x":110.4,"d":15.4},{"x":111.9,"d":17.1},{"x":101.6,"d":17.1},{"x":99.9,"d":16.5},{"x":98.8,"d":11.7},{"x":107.7,"d":13.3},{"x":111.0,"d":10.8},{"x":113.5,"d":14.4},{"x":114.6,"d":11.3},{"x":116.7,"d":12.9},{"x":93.6,"d":14.8},{"x":95.0,"d":12.9},{"x":96.3,"d":15.8},{"x":108.9,"d":18.5},{"x":113.5,"d":19.0},
{"x":127.6,"d":11.3},{"x":126.8,"d":12.7},{"x":128.9,"d":13.3},{"x":128.3,"d":14.4},{"x":131.8,"d":10.8},{"x":132.0,"d":14.8},{"x":134.6,"d":8.8},{"x":135.2,"d":10.6},{"x":141.3,"d":11.3},{"x":142.3,"d":9.2},{"x":143.0,"d":10.2},{"x":144.7,"d":10.8},{"x":141.3,"d":13.3},
{"x":149.3,"d":8.8},{"x":149.9,"d":7.7},{"x":152.0,"d":7.1},{"x":151.4,"d":9.6},{"x":152.9,"d":10.6},{"x":154.1,"d":8.5},{"x":155.0,"d":9.8},{"x":155.6,"d":11.3},{"x":156.2,"d":9.2},{"x":157.3,"d":10.6},{"x":157.1,"d":5.0},{"x":158.3,"d":9.6},{"x":158.1,"d":12.7},{"x":159.4,"d":8.1},{"x":159.8,"d":10.6},{"x":160.4,"d":9.2},{"x":161.3,"d":9.8},{"x":160.2,"d":6.5},{"x":162.5,"d":5.6},{"x":164.0,"d":5.6},{"x":163.4,"d":7.7},{"x":161.5,"d":11.7},{"x":163.0,"d":12.7},{"x":164.4,"d":10.8},{"x":165.5,"d":10.2},{"x":166.5,"d":7.7},{"x":167.6,"d":9.8},{"x":168.6,"d":7.1},{"x":169.3,"d":4.4},{"x":170.3,"d":6.5},{"x":171.4,"d":9.6},{"x":172.4,"d":9.8},{"x":173.9,"d":11.3},{"x":174.5,"d":4.4},{"x":175.1,"d":7.1},{"x":176.0,"d":8.5},{"x":176.6,"d":5.6},{"x":176.2,"d":9.8},{"x":178.1,"d":8.1},{"x":179.4,"d":13.8},{"x":180.2,"d":9.6},{"x":182.3,"d":11.3},{"x":182.9,"d":9.8},{"x":184.4,"d":9.6},{"x":182.3,"d":12.7},{"x":152.0,"d":13.8},{"x":152.9,"d":14.8},{"x":155.0,"d":15.0},{"x":153.9,"d":12.9},{"x":151.4,"d":12.7},{"x":173.9,"d":13.3},{"x":170.9,"d":11.3},{"x":175.1,"d":10.6},{"x":177.0,"d":11.3},{"x":178.1,"d":9.8},{"x":179.1,"d":7.5},{"x":179.8,"d":9.2},{"x":179.4,"d":12.3},{"x":174.1,"d":12.7},{"x":181.9,"d":10.6},{"x":182.5,"d":9.2},{"x":184.0,"d":9.8},{"x":184.6,"d":10.6},{"x":171.4,"d":10.2},{"x":169.3,"d":9.8},{"x":172.4,"d":9.2},{"x":156.6,"d":8.8},{"x":157.7,"d":11.3},{"x":158.7,"d":7.1},{"x":160.8,"d":11.7},{"x":161.9,"d":8.8},{"x":156.6,"d":12.3},{"x":154.5,"d":7.1},{"x":159.4,"d":12.9}
],
"ticks":[{"d":10,"x":0,"x2":4.2},{"d":20,"x":0,"x2":4.2},{"d":30,"x":0,"x2":4.2},{"d":40,"x":0,"x2":4.2},{"d":50,"x":0,"x2":4.2},{"d":10,"x":186.5,"x2":190.7},{"d":20,"x":186.5,"x2":190.7},{"d":30,"x":186.5,"x2":190.7},{"d":40,"x":186.5,"x2":190.7},{"d":50,"x":186.5,"x2":190.7}],
"faults":[{"x":54.5,"x2":72.1,"d":-3.1},{"x":73.0,"x2":88.5,"d":-3.1},{"x":89.4,"x2":107.2,"d":-3.1},{"x":110.8,"x2":124.9,"d":-3.1},{"x":129.1,"x2":135.4,"d":-3.1}],
"flab":[{"x":65.2,"d":-7.3,"t":"OF"},{"x":81.8,"d":-7.3,"t":"HF"},{"x":98.8,"d":-13.2,"t":"YF"},{"x":98.8,"d":-7.3,"t":"KF"},{"x":118.6,"d":-7.3,"t":"BF"},{"x":132.3,"d":-7.3,"t":"MF"}],
"ttl":[{"x":95.5,"d":-19.6,"t":"Yamasaki Fault Zone"}],
"dir":[{"x":180.2,"d":-10.6,"t":"N120°E"}],
"arrow":[{"x":170.7,"x2":184.5,"d":-4.0}],
"head":[{"x":185.4,"d":-4.0}],
"sbar":[{"x":0.4,"x2":50.4,"d":82.7}],
"sbt":[{"x":0.4,"d":80.0,"d2":82.7},{"x":10.4,"d":80.0,"d2":82.7},{"x":20.4,"d":80.0,"d2":82.7},{"x":30.4,"d":80.0,"d2":82.7},{"x":40.4,"d":80.0,"d2":82.7},{"x":50.4,"d":80.0,"d2":82.7}],
"slab":[{"x":-0.9,"d":76.7,"t":"0"},{"x":45.8,"d":76.7,"t":"50km"}],
"ltitle":[{"x":100.9,"d":66.5,"t":"Relative Scattering Coefficient"}],
"llab":[{"x":123.6,"d":73.3,"t":"+100%"},{"x":157.3,"d":73.3,"t":"+50%"},{"x":123.6,"d":80.6,"t":"−100%"},{"x":157.3,"d":80.6,"t":"−50%"}],
"leg":[{"x":129.5,"d":72.9,"v":100},{"x":163.0,"d":72.9,"v":50},{"x":129.5,"d":80.7,"v":-100},{"x":163.0,"d":80.7,"v":-50}]
},
"encoding":{
"x":{"field":"x","type":"quantitative","scale":{"domain":[0,190.7],"nice":false,"zero":false},"axis":null},
"y":{"field":"d","type":"quantitative","scale":{"domain":[0,60],"nice":false,"zero":false,"reverse":true},
"axis":{"values":[0,20,40,60],"title":"Depth, km","grid":false,"ticks":false,"domain":false,"labelPadding":18,"titlePadding":10,
"labelFont":"Liberation Sans","labelFontSize":28,"labelColor":"black","titleFont":"Liberation Sans","titleFontSize":28,"titleFontWeight":"normal","titleColor":"black",
"labelBaseline":{"condition":{"test":"datum.value == 0","value":"top"},"value":"middle"}}}
},
"resolve":{"scale":{"size":"independent"}},
"layer":[
{"data":{"name":"eq"},"mark":{"type":"point","shape":"M-1,0H1M0,-1V1","filled":false,"stroke":"#ff0000","strokeWidth":1.6,"size":90,"opacity":1}},
{"data":{"name":"grid"},"transform":[{"filter":"datum.v < 0"}],"mark":{"type":"point","shape":"circle","filled":true,"color":"black","strokeWidth":0,"opacity":1},
"encoding":{"size":{"field":"v","type":"quantitative","scale":{"type":"pow","exponent":2,"domain":[0,-200],"range":[0,900]},"legend":null}}},
{"data":{"name":"grid"},"transform":[{"filter":"datum.v > 0"}],"mark":{"type":"point","shape":"circle","filled":false,"color":"black","strokeWidth":1.8,"opacity":1},
"encoding":{"size":{"field":"v","type":"quantitative","scale":{"type":"pow","exponent":2,"domain":[0,200],"range":[0,900]},"legend":null}}},
{"data":{"name":"ticks"},"mark":{"type":"rule","color":"black","strokeWidth":3},"encoding":{"x2":{"field":"x2"}}},
{"data":{"name":"faults"},"mark":{"type":"rule","color":"black","strokeWidth":10,"strokeCap":"butt"},"encoding":{"x2":{"field":"x2"}}},
{"data":{"name":"flab"},"mark":{"type":"text","font":"DejaVu Sans Mono","fontSize":22,"color":"black","baseline":"middle","align":"center"},"encoding":{"text":{"field":"t"}}},
{"data":{"name":"ttl"},"mark":{"type":"text","font":"DejaVu Sans Mono","fontSize":26,"color":"black","baseline":"middle","align":"center"},"encoding":{"text":{"field":"t"}}},
{"data":{"name":"dir"},"mark":{"type":"text","font":"Liberation Sans","fontSize":27,"color":"black","baseline":"middle","align":"center"},"encoding":{"text":{"field":"t"}}},
{"data":{"name":"arrow"},"mark":{"type":"rule","color":"black","strokeWidth":2},"encoding":{"x2":{"field":"x2"}}},
{"data":{"name":"head"},"mark":{"type":"point","shape":"triangle-right","filled":true,"color":"black","size":180,"opacity":1,"strokeWidth":0}},
{"data":{"name":"sbar"},"mark":{"type":"rule","color":"black","strokeWidth":2},"encoding":{"x2":{"field":"x2"}}},
{"data":{"name":"sbt"},"mark":{"type":"rule","color":"black","strokeWidth":2},"encoding":{"y2":{"field":"d2"}}},
{"data":{"name":"slab"},"mark":{"type":"text","font":"Liberation Sans","fontSize":24,"color":"black","baseline":"middle","align":"left"},"encoding":{"text":{"field":"t"}}},
{"data":{"name":"ltitle"},"mark":{"type":"text","font":"DejaVu Sans Mono","fontSize":22,"color":"black","baseline":"middle","align":"left"},"encoding":{"text":{"field":"t"}}},
{"data":{"name":"llab"},"mark":{"type":"text","font":"DejaVu Sans Mono","fontSize":22,"color":"black","baseline":"middle","align":"right"},"encoding":{"text":{"field":"t"}}},
{"data":{"name":"leg"},"transform":[{"filter":"datum.v < 0"}],"mark":{"type":"point","shape":"circle","filled":true,"color":"black","strokeWidth":0,"opacity":1},
"encoding":{"size":{"field":"v","type":"quantitative","scale":{"type":"pow","exponent":2,"domain":[0,-200],"range":[0,900]},"legend":null}}},
{"data":{"name":"leg"},"transform":[{"filter":"datum.v > 0"}],"mark":{"type":"point","shape":"circle","filled":false,"color":"black","strokeWidth":1.8,"opacity":1},
"encoding":{"size":{"field":"v","type":"quantitative","scale":{"type":"pow","exponent":2,"domain":[0,200],"range":[0,900]},"legend":null}}}
]
}
